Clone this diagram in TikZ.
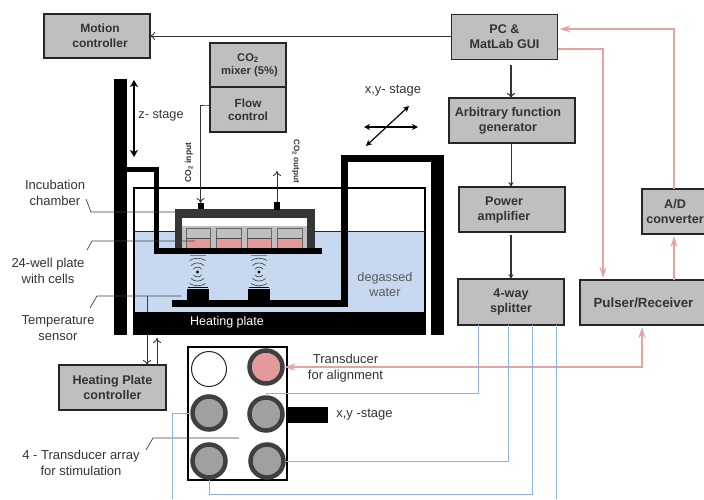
\documentclass[tikz,border=0pt]{standalone}
\usepackage{fontspec}
\setmainfont{Liberation Sans}
\usetikzlibrary{arrows.meta,calc}
\definecolor{boxgrey}{HTML}{BFBFBF}
\definecolor{ringgrey}{HTML}{A0A0A0}
\definecolor{ringdark}{HTML}{404040}
\definecolor{waterblue}{HTML}{C6D9F0}
\definecolor{pinkline}{HTML}{E6A3A3}
\definecolor{pinkfill}{HTML}{E39A9A}
\definecolor{blueline}{HTML}{8DB3E2}
\definecolor{txt}{HTML}{333333}
\newcommand{\ofs}[1]{\hspace*{#1pt}}
\tikzset{
  boxnode/.style={draw=black!85,fill=boxgrey,line width=1.5pt,inner sep=0pt,outer sep=0pt,align=center,
    font=\fontsize{12.6}{15}\selectfont\bfseries,text=txt},
  lbl/.style={inner sep=0pt,outer sep=0pt,align=center,font=\fontsize{13}{16}\selectfont,text=txt},
  blk/.style={fill=black,draw=none},
  conn/.style={draw=black!80,line width=1pt},
  openarrow/.style={conn,-{To[length=5pt,width=8pt,line width=0.9pt]}},
  leader/.style={draw=black!75,line width=0.7pt},
  pinkwire/.style={draw=pinkline,line width=1.3pt},
  pinkarrow/.style={pinkwire,-{Stealth[length=11pt,width=7pt]}},
  bluewire/.style={draw=blueline,line width=1pt},
  ring/.style={circle,draw=ringdark,line width=4.5pt,fill=ringgrey,minimum size=33pt,inner sep=0pt,outer sep=2pt},
  wave/.style={draw=black!70,line width=0.7pt},
}
\begin{document}
\begin{tikzpicture}[x=1pt,y=-1pt]
\useasboundingbox (0,0) rectangle (704,499);
% boxes
\node[boxnode,minimum width=106pt,minimum height=44pt,font=\fontsize{12}{15}\selectfont\bfseries] (mc) at (97,36) {\ofs{6}Motion\\\ofs{6}controller};
\node[boxnode,minimum width=76pt,minimum height=44pt,font=\fontsize{11.2}{13}\selectfont\bfseries] (mix) at (248,65) {CO\textsubscript{2}\\\ofs{3}mixer (5\%)};
\node[boxnode,minimum width=76pt,minimum height=45pt,font=\fontsize{11.8}{13}\selectfont\bfseries] (flow) at (248,109.5) {Flow\\control};
\node[boxnode,minimum width=106pt,minimum height=45pt] (pc) at (504.5,37) {PC \&\\MatLab GUI};
\node[boxnode,minimum width=126pt,minimum height=45pt] (afg) at (512,120.5) {\ofs{-8}Arbitrary function\\\ofs{-8}generator};
\node[boxnode,minimum width=106pt,minimum height=45pt] (pa) at (512,209.5) {\ofs{-16}Power\\\ofs{-16}amplifier};
\node[boxnode,minimum width=66pt,minimum height=45pt] (ad) at (675,211.5) {A/D\\converter};
\node[boxnode,minimum width=106pt,minimum height=46pt] (sp) at (511,302) {4-way\\splitter};
\node[boxnode,minimum width=130pt,minimum height=45pt,font=\fontsize{13.3}{15}\selectfont\bfseries] (pr) at (645,302.5) {\ofs{-3}Pulser/Receiver};
\node[boxnode,minimum width=107pt,minimum height=45pt] (hc) at (112.5,387.5) {Heating Plate\\controller};
% water tank
\fill[waterblue] (134,231) rectangle (425,312);
\draw[black,line width=1.3pt] (134,312) -- (134,188) -- (425,188) -- (425,312);
\draw[black!85,line width=1pt] (134,231) -- (425,231);
% frame
\fill[blk] (114,79) rectangle (127,335);
\fill[blk] (127,167) rectangle (159,172);
\fill[blk] (154,167) rectangle (159,254);
\fill[blk] (133,312) rectangle (426,335);
\fill[blk] (341,155) rectangle (444,162);
\fill[blk] (431,155) rectangle (444,335);
\fill[blk] (341,155) rectangle (348,307);
\fill[blk] (172,300) rectangle (348,307);
% chamber
\fill[ringdark!85!black] (175,209) rectangle (315,250);
\fill[white] (182,218) rectangle (307,226);
\fill[boxgrey] (182,226) rectangle (307,250);
\foreach \a/\b in {186/210,216/241,247/271,277/302}{
  \fill[boxgrey] (\a,229) rectangle (\b,239);
  \fill[pinkfill] (\a,239) rectangle (\b,249);
  \draw[black!60,line width=0.8pt] (\a,249) -- (\a,228) -- (\b,228) -- (\b,249);
  \draw[black!70,line width=0.7pt] (\a,238.5) -- (\b,238.5);
}
\fill[blk] (155,248) rectangle (322,254);
% inlets
\fill[blk] (198,203) rectangle (204,209);
\fill[blk] (274,202) rectangle (280,210);
\coordinate (inlet) at (200.5,203);
\coordinate (outlet) at (277,202);
% transducers and waves
\foreach \c/\l/\r in {197.5/187/209,259/248/270}{
  \fill[blk] (\l,289) rectangle (\r,301);
  \draw[black,line width=0.7pt] (\l+1,287.5) -- (\r-1,287.5);
  \draw[black!50,line width=0.8pt] (\c-8,255.5) -- (\c+8,255.5);
  \fill[black] (\c,272) circle (1.6);
  \foreach \dx/\near/\far in {4/5.5/3,6.5/10/6.5,8/14.5/11.5}{
    \draw[wave] (\c-\dx,272-\far) .. controls (\c-\dx*0.4,272-\near) and (\c+\dx*0.4,272-\near) .. (\c+\dx,272-\far);
    \draw[wave] (\c-\dx,272+\far) .. controls (\c-\dx*0.4,272+\near) and (\c+\dx*0.4,272+\near) .. (\c+\dx,272+\far);
  }
}
% thin leaders
\draw[leader] (86,199) -- (91,212) -- (175,212);
\draw[leader] (87,250) -- (92,241) -- (195,241);
\draw[leader] (90,308) -- (97,296) -- (181,296);
\draw[leader] (147,296) -- (147,312);
% labels in the setup
\node[lbl] (l1) at (55,193) {Incubation\\chamber};
\node[lbl] (l2) at (48,270.5) {24-well plate\\with cells};
\node[lbl] (l3) at (58,328) {Temperature\\sensor};
\node[lbl] (l4) at (81,463) {4 - Transducer array\\for stimulation};
\node[lbl,font=\fontsize{12.7}{16}\selectfont] (l5) at (161,116) {z- stage};
\node[lbl] (l6) at (393,91) {x,y- stage};
\node[lbl,text=white,font=\fontsize{12.5}{16}\selectfont] (l7) at (227,322) {Heating plate};
\node[lbl,text=black!65,font=\fontsize{12.7}{15}\selectfont] (l8) at (385,284) {degassed\\water};
\node[lbl] (l9) at (345.5,368) {Transducer\\for alignment};
\node[lbl] (l10) at (364.5,415) {x,y -stage};
\node[lbl,rotate=90,font=\fontsize{8.5}{9}\selectfont\bfseries] (l11) at (189,162.5) {CO\textsubscript{2} input};
\node[lbl,rotate=-90,font=\fontsize{8.2}{9}\selectfont\bfseries] (l12) at (296,161) {CO\textsubscript{2} output};
% stage arrows
\coordinate (z1) at (134,80); \coordinate (z2) at (134,157);
\draw[black,line width=1.4pt,{Stealth[length=7pt,width=8pt,inset=2pt]}-{Stealth[length=7pt,width=8pt,inset=2pt]}] (z1) -- (z2);
\coordinate (h1) at (364,127); \coordinate (h2) at (418,127);
\coordinate (d1) at (366,146); \coordinate (d2) at (409,106);
\draw[black,line width=1.2pt,{Stealth[length=6pt,width=6pt]}-{Stealth[length=6pt,width=6pt]}] (h1) -- (h2);
\draw[black,line width=1.2pt,{Stealth[length=6pt,width=6pt]}-{Stealth[length=6pt,width=6pt]}] (d1) -- (d2);
% black connectors
\coordinate (pcout) at (511,65);
\coordinate (paout) at (511,235);
\draw[openarrow] (pc.west |- mc.east) -- (mc.east);
\draw[conn,line width=1.1pt,-{To[length=5pt,width=8pt]}] (pcout) -- (pcout |- afg.north);
\draw[conn,-{Stealth[length=5pt,width=5pt]}] (afg.south -| pcout) -- (pa.north -| pcout);
\draw[conn,line width=1.1pt,-{Stealth[length=5pt,width=5pt]}] (paout) -- (sp.north);
\draw[openarrow] (flow.west |- 0,105) -- +(-3,0) -- (200.5,105) -- (inlet);
\draw[openarrow] (outlet) -- (277,171);
\draw[openarrow] (147,335) -- (147,365);
\draw[openarrow] (157,365) -- (157,338);
% array
\node[draw=black,line width=1.5pt,fill=white,minimum width=99pt,minimum height=133pt,inner sep=0pt,outer sep=0pt] (arr) at (237.5,413.5) {};
\node[circle,draw=black!85,line width=1pt,fill=white,minimum size=35pt,inner sep=0pt] (tw) at (209,369) {};
\node[ring,fill=pinkfill] (tp) at (266,367) {};
\node[ring] (t1) at (209,413) {};
\node[ring] (t2) at (266,414) {};
\node[ring] (t3) at (209,461) {};
\node[ring] (t4) at (267,461) {};
\fill[blk] (287,407) rectangle (328,423);
\draw[leader] (146,450) -- (153,438) -- (239,438);
% pink
\draw[pinkarrow] ([xshift=-1pt]ad.north) |- ([yshift=8pt,xshift=2pt]pc.east);
\draw[pinkarrow] ([yshift=-12pt]pc.east) -| ([xshift=-42pt,yshift=2pt]pr.north);
\draw[pinkarrow] ([xshift=29pt]pr.north) -- ([xshift=-1pt,yshift=-2pt]ad.south);
\draw[pinkwire,{Stealth[length=11pt,width=7pt]}-{Stealth[length=11pt,width=7pt]}] (tp.east) -- (642,367) -- ([xshift=-3pt,yshift=-2pt]pr.south);
% blue
\draw[bluewire] (478,325) |- (266,393) -- (t2.north);
\draw[bluewire] (508,325) |- (t4.east);
\draw[bluewire] (532,325) |- (209,494) -- (t3.south);
\draw[bluewire] (556,325) -- (556,499);
\draw[bluewire] (172,499) |- (t1.west);
\end{tikzpicture}
\end{document}
